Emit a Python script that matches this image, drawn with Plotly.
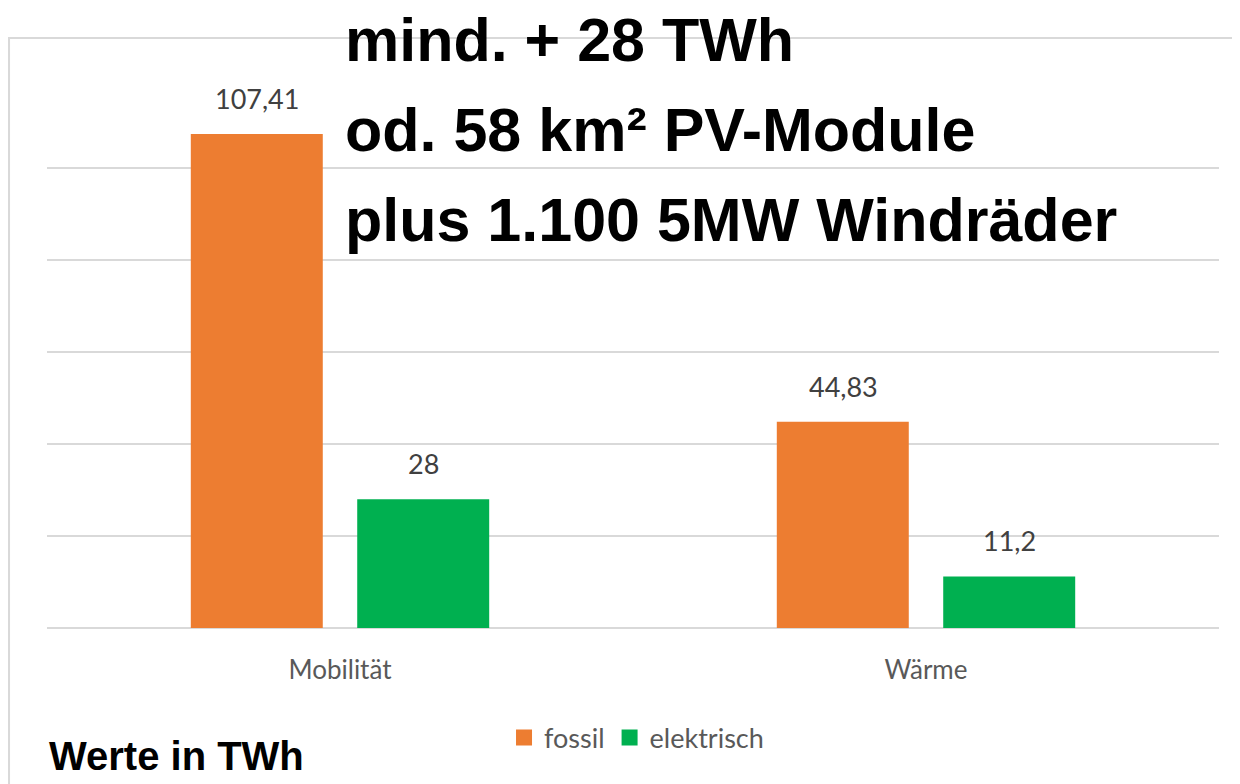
import plotly.graph_objects as go

categories = ["Mobilität", "Wärme"]
fossil = [107.41, 44.83]
elektrisch = [28, 11.2]
series_names = ["fossil", "elektrisch"]
title_lines = ["mind. + 28 TWh", "od. 58 km² PV-Module", "plus 1.100 5MW Windräder"]
unit_note = "Werte in TWh"

ORANGE = "#ED7D31"
GREEN = "#00B050"
GRID = "#d9d9d9"
LABEL_FONT = "Lato, Carlito, Calibri, sans-serif"
BOLD_FONT = "Liberation Sans Narrow, Arial Narrow, Liberation Sans, Arial, sans-serif"


def fmt(v):
    return f"{v:g}".replace(".", ",")


fig = go.Figure()
for name, vals, col in [(series_names[0], fossil, ORANGE), (series_names[1], elektrisch, GREEN)]:
    fig.add_trace(go.Bar(x=categories, y=vals, name=name, marker=dict(color=col, line=dict(width=0)),
                         showlegend=False, hoverinfo="skip"))
    # legend proxy with larger square symbol
    fig.add_trace(go.Scatter(x=[None], y=[None], mode="markers", name=name,
                             marker=dict(symbol="square", size=18, color=col)))

annotations = []
for sign, vals in [(-1, fossil), (1, elektrisch)]:
    for c, v in zip(categories, vals):
        annotations.append(dict(x=c, y=v, xref="x", yref="y", text=fmt(v), showarrow=False,
                                xanchor="center", yanchor="bottom", xshift=sign * 83, yshift=17,
                                font=dict(family=LABEL_FONT, size=27, color="#404040")))

for line, ypos in zip(title_lines, [1.0652, 0.9022, 0.7391]):
    annotations.append(dict(x=0.2526, y=ypos, xref="paper", yref="paper", xanchor="left", yanchor="middle",
                            align="left", showarrow=False, text=line,
                            font=dict(family=BOLD_FONT, size=61, color="black", weight="bold")))
annotations.append(dict(x=0.0, y=-0.232, xref="paper", yref="paper", xanchor="left", yanchor="middle",
                        showarrow=False, text=unit_note,
                        font=dict(family=BOLD_FONT, size=40, color="black", weight="bold")))

fig.update_layout(
    width=1232, height=776,
    margin=dict(l=39, r=21, t=68, b=156),
    paper_bgcolor="white", plot_bgcolor="white",
    barmode="group", bargap=0.432, bargroupgap=0.207,
    showlegend=True,
    legend=dict(orientation="h", x=0.503, xanchor="center", y=-0.199, yanchor="middle",
                font=dict(family=LABEL_FONT, size=27, color="#595959"), itemwidth=30,
                bgcolor="rgba(0,0,0,0)"),
    annotations=annotations,
    shapes=[dict(type="rect", xref="paper", yref="paper", x0=-0.0324, x1=1.2, y0=1.0688, y1=-0.5,
                 line=dict(color=GRID, width=2), fillcolor="rgba(0,0,0,0)", layer="below")],
    xaxis=dict(showgrid=False, zeroline=False, showline=False, ticks="",
               tickfont=dict(family=LABEL_FONT, size=26, color="#595959"), ticklabelstandoff=24),
    yaxis=dict(range=[0, 120], dtick=20, showgrid=True, gridcolor=GRID, gridwidth=2,
               zeroline=True, zerolinecolor=GRID, zerolinewidth=2, showticklabels=False, ticks=""),
)

fig.write_html("out.html")
